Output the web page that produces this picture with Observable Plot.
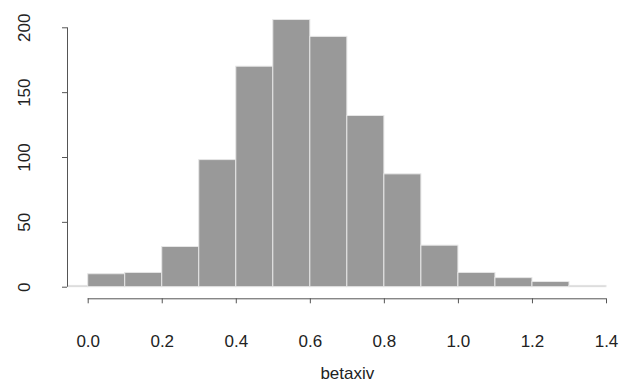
<!DOCTYPE html>
<html><head><meta charset="utf-8">
<script src="https://cdn.jsdelivr.net/npm/d3@7"></script>
<script src="https://cdn.jsdelivr.net/npm/@observablehq/plot@0.6"></script>
<style>html,body{margin:0;padding:0;background:#fff}</style>
</head><body><div id="chart"></div>
<script>
// Histogram of betaxiv (bin width 0.1)
const binStarts = [-0.1, 0.0, 0.1, 0.2, 0.3, 0.4, 0.5, 0.6, 0.7, 0.8, 0.9, 1.0, 1.1, 1.2, 1.3];
const binEnds   = [ 0.0, 0.1, 0.2, 0.3, 0.4, 0.5, 0.6, 0.7, 0.8, 0.9, 1.0, 1.1, 1.2, 1.3, 1.4];
const counts    = [1, 10, 11, 31, 98, 170, 206, 193, 132, 87, 32, 11, 7, 4, 1];
const xTicks = [0.0, 0.2, 0.4, 0.6, 0.8, 1.0, 1.2, 1.4];
const xTickLabels = ["0.0", "0.2", "0.4", "0.6", "0.8", "1.0", "1.2", "1.4"];
const yTicks = [0, 50, 100, 150, 200];
const xLabel = "betaxiv";

const bins = counts.map((c, i) => ({x1: binStarts[i], x2: binEnds[i], count: c}));

// layout (R base-graphics style plot region)
const W = 623, H = 383;
const mLeft = 67, mBottom = 84.7;
const xRange = [87.7, 606];
const yRange = [286.7, 27.3];
const xScale = d3.scaleLinear([xTicks[0], xTicks[xTicks.length - 1]], xRange);
const xFrameLeft = xScale.invert(mLeft);
const axisGap = (H - mBottom) - yRange[0];

const chart = Plot.plot({
  width: W, height: H,
  marginLeft: mLeft, marginRight: 0, marginTop: 0, marginBottom: mBottom,
  style: {fontFamily: "'Liberation Sans', Arial, sans-serif", fontSize: "17px", background: "#fff"},
  x: {domain: [xTicks[0], xTicks[xTicks.length - 1]], range: xRange},
  y: {domain: [yTicks[0], yTicks[yTicks.length - 1]], range: yRange},
  marks: [
    Plot.rect(bins, {x1: "x1", x2: "x2", y1: 0, y2: "count", fill: "#999999", stroke: "#e6e6e6", strokeWidth: 1, clip: true}),
    Plot.ruleY([0], {x1: xTicks[0], x2: xTicks[xTicks.length - 1], dy: axisGap, stroke: "#555"}),
    Plot.axisX(xTicks, {tickSize: 5, tickPadding: 31, stroke: "#555", fill: "#222", label: null,
      tickFormat: d => xTickLabels[xTicks.indexOf(d)]}),
    Plot.ruleX([xFrameLeft], {y1: yTicks[0], y2: yTicks[yTicks.length - 1], stroke: "#555"}),
    Plot.axisY(yTicks, {tickSize: 5, tickPadding: 33, tickRotate: -90, stroke: "#555", fill: "#222", label: null}),
    Plot.text([xLabel], {x: (xTicks[0] + xTicks[xTicks.length - 1]) / 2, frameAnchor: "bottom", lineAnchor: "top", dy: 68, fill: "#222", text: d => d})
  ]
});
document.getElementById("chart").appendChild(chart);
</script>
</body></html>
